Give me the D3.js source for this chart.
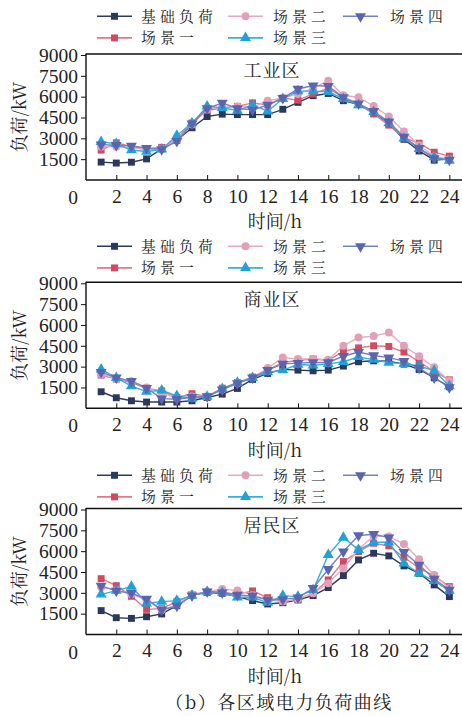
<!DOCTYPE html>
<html><head><meta charset="utf-8">
<script src="https://cdn.jsdelivr.net/npm/d3@7"></script>
<style>
html,body{margin:0;padding:0;background:#fff;}
svg text{font-family:"Liberation Serif","Times New Roman","Noto Serif CJK SC","Noto Sans CJK SC",serif;fill:#222;}
.cn{font-family:"Noto Serif CJK SC","Noto Sans CJK SC",serif;}
</style></head>
<body>
<svg id="c" width="462" height="716"></svg>
<script>
const hours = d3.range(1, 25);
const seriesNames = ["基础负荷","场景一","场景二","场景三","场景四"];
const yTicks = [1500,3000,4500,6000,7500,9000];
const xTicks = [2,4,6,8,10,12,14,16,18,20,22,24];
const panelTitles = ["工业区","商业区","居民区"];

// 工业区
const indBase = [1290,1220,1280,1520,2250,2860,3760,4570,4740,4710,4710,4710,5090,5590,6070,6230,5710,5430,4880,4050,2930,2090,1430,1500];
const indS1   = [2150,2680,2400,2250,2350,2950,4100,5000,5200,5300,5550,5400,5900,5750,6200,6600,5950,5450,4750,3950,3050,2650,2000,1720];
const indS2   = [2400,2400,2300,2200,2250,2900,4000,5100,5250,5300,5250,5700,5900,6200,6600,7150,6100,5950,5330,4570,3500,2500,1700,1500];
const indS3   = [2750,2600,2150,2050,2200,3200,4100,5300,5200,5000,5400,4950,5850,6400,6400,6350,5850,5400,4900,4100,3000,2250,1650,1400];
const indS4   = [2550,2500,2450,2300,2200,2800,4050,5150,5550,5150,5050,5400,5900,6550,6800,6750,5950,5500,4950,4200,3100,2300,1550,1450];

// 商业区
const comBase = [1190,760,540,450,450,450,540,780,1020,1430,2080,2510,2800,2750,2700,2750,3040,3350,3420,3400,3180,2800,2200,1550];
const comS1   = [2390,2100,1850,1450,1250,780,1050,850,1450,1850,2250,2750,3300,3450,3550,3450,4100,4350,4500,4450,4050,3350,2650,2050];
const comS2   = [2450,2150,1950,1500,1100,750,850,850,1350,1800,2200,2900,3650,3550,3550,3500,4500,5100,5200,5450,4500,3750,2950,1980];
const comS3   = [2800,2200,1600,1200,1300,900,700,850,1400,1850,2200,2600,2750,3150,3100,3200,3350,3700,3500,3300,3200,3050,2700,1600];
const comS4   = [2600,2200,1950,1450,700,650,800,850,1350,1800,2200,2750,3200,3250,3300,3300,3750,4050,3800,3650,3400,2900,2200,1500];

// 居民区
const resBase = [1720,1210,1160,1280,1480,2080,2850,3020,2970,2730,2440,2200,2290,2490,2800,3380,4240,5370,5850,5660,4940,4410,3570,2730];
const resS1   = [4020,3520,2750,1810,1860,2370,2850,3040,3040,2890,3140,2650,2370,2530,2970,3930,5250,5970,6570,6380,5560,4770,4220,3450];
const resS2   = [3400,3210,2890,2490,1770,2120,2890,3090,3280,3160,2850,2490,2370,2560,2970,3690,4770,6140,7100,7050,6520,5420,4290,3330];
const resS3   = [2890,3160,3450,2250,2370,2440,2800,3090,3020,2680,2680,2290,2800,2730,3210,5730,6980,6090,6640,6640,5130,4410,3860,3160];
const resS4   = [3500,3140,2970,2560,1770,2050,2800,3090,3020,2850,2770,2490,2530,2650,3330,4700,5970,7130,7220,6980,5920,5010,4000,3210];

const panelData = [
  [indBase,indS1,indS2,indS3,indS4],
  [comBase,comS1,comS2,comS3,comS4],
  [resBase,resS1,resS2,resS3,resS4]
];

const lineColors   = ["#2e3b5e","#e07888","#eaa9c2","#35b0e0","#7780c0"];
const markerColors = ["#2a385c","#d24a60","#e29fba","#20a2d8","#5a65b0"];
const markerTypes  = [d3.symbolSquare,d3.symbolSquare,d3.symbolCircle,d3.symbolTriangle,d3.symbolTriangle];
const markerSizes  = [48,48,50,52,52];
const markerRot    = [0,0,0,0,180];

const svg = d3.select("#c");
const W = 462;
const left = 86;
const x = d3.scaleLinear().domain([0,25]).range([left, left + 25*15.14]);

const panelBottoms = [180, 408.3, 634.5];
const legendTops = [16.3, 246.3, 475.3];
const legendGap = 21.6;
const plotH = 125;

function drawMarker(g, i, cx, cy){
  g.append("path")
    .attr("d", d3.symbol().type(markerTypes[i]).size(markerSizes[i])())
    .attr("transform", `translate(${cx},${cy}) rotate(${markerRot[i]})`)
    .attr("fill", markerColors[i]);
}

panelData.forEach((series, p) => {
  const bottom = panelBottoms[p];
  const y = d3.scaleLinear().domain([0,9000]).range([bottom, bottom - plotH]);
  const g = svg.append("g");

  // legend
  const lg = g.append("g");
  const legPos = [[0,0],[0,1],[1,0],[1,1],[2,0]];
  const colX = [97, 228, 343];
  const textX = [141, 273, 390];
  seriesNames.forEach((name, i) => {
    const [c, r] = legPos[i];
    const ly = legendTops[p] + r*legendGap;
    lg.append("line").attr("x1", colX[c]).attr("x2", colX[c]+35)
      .attr("y1", ly).attr("y2", ly)
      .attr("stroke", lineColors[i]).attr("stroke-width", 1.6);
    drawMarker(lg, i, colX[c]+17.5, ly);
    lg.append("text").attr("class","cn").attr("x", textX[c]).attr("y", ly)
      .attr("dy","0.36em").attr("font-size", 14.8).attr("letter-spacing", 4.2)
      .text(name);
  });

  // frame: top line
  g.append("line").attr("x1", left).attr("x2", W).attr("y1", y(9000)-1).attr("y2", y(9000)-1)
    .attr("stroke","#111").attr("stroke-width",1.4);

  // y axis
  const ya = g.append("g").attr("transform", `translate(${left},0)`)
    .call(d3.axisLeft(y).tickValues(yTicks).tickFormat(d3.format("d")).tickSize(5).tickPadding(3).tickSizeOuter(0));
  ya.select(".domain").attr("stroke","#111").attr("stroke-width",1.4)
    .attr("d", `M0,${y(9000)-1.5}V${bottom}`);
  ya.selectAll(".tick line").attr("stroke","#111");
  ya.selectAll(".tick text").attr("font-size", 19.5).attr("fill","#222")
    .style("font-family","'Liberation Serif','Times New Roman',serif");

  // x axis
  const xa = g.append("g").attr("transform", `translate(0,${bottom})`)
    .call(d3.axisBottom(x).tickValues(xTicks).tickFormat(d3.format("d")).tickSize(-5).tickPadding(9).tickSizeOuter(0));
  xa.select(".domain").attr("stroke","#111").attr("stroke-width",1.4)
    .attr("d", `M${left},0H${W}`);
  xa.selectAll(".tick line").attr("stroke","#111");
  xa.selectAll(".tick text").attr("font-size", 19.5).attr("fill","#222")
    .style("font-family","'Liberation Serif','Times New Roman',serif");
  // origin "0"
  g.append("text").attr("x", x(0)-13).attr("y", bottom + 17).attr("dy","0.36em")
    .attr("text-anchor","middle").attr("font-size",19.5).text("0");

  // x label
  g.append("text").attr("class","cn").attr("x", 275).attr("y", bottom + 42).attr("dy","0.36em")
    .attr("text-anchor","middle").attr("font-size", 18).text("时间/h");

  // y label
  g.append("text").attr("class","cn")
    .attr("transform", `translate(20,${bottom - 63}) rotate(-90)`)
    .attr("text-anchor","middle").attr("dy","0.36em").attr("font-size", 18).text("负荷/kW");

  // panel title
  g.append("text").attr("class","cn").attr("x", 272).attr("y", y(9000) + 16).attr("dy","0.36em")
    .attr("text-anchor","middle").attr("font-size", 18).attr("letter-spacing", 1).text(panelTitles[p]);

  // series
  const line = d3.line().x((d,k) => x(hours[k])).y(d => y(d));
  series.forEach((vals, i) => {
    g.append("path").datum(vals).attr("d", line).attr("fill","none")
      .attr("stroke", lineColors[i]).attr("stroke-width", 1.4);
    const mg = g.append("g");
    vals.forEach((v,k) => drawMarker(mg, i, x(hours[k]), y(v)));
  });
});

svg.append("text").attr("class","cn").attr("x", 279).attr("y", 703).attr("dy","0.36em")
  .attr("text-anchor","middle").attr("font-size", 18).attr("letter-spacing", 1.5)
  .text("（b）各区域电力负荷曲线");
</script>
</body></html>
